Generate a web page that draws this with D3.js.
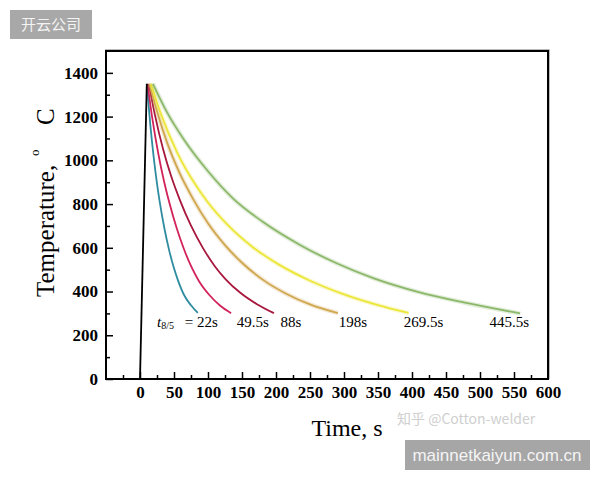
<!DOCTYPE html>
<html>
<head>
<meta charset="utf-8">
<script src="https://cdn.jsdelivr.net/npm/d3@7"></script>
<style>
  body { margin: 0; background: #fff; }
  #chart { width: 600px; height: 480px; }
  .tick text { font-family: "Liberation Serif", serif; font-weight: bold; font-size: 17px; fill: #000; }
</style>
</head>
<body>
<div id="chart"></div>
<script>
// heating branch
var heatTime = [0, 10];
var heatTemp = [0, 1350];

// cooling curves, one per t8/5
var coolLabels = ["22s", "49.5s", "88s", "198s", "269.5s", "445.5s"];
var coolColors = ["#2f8ca0", "#d2225a", "#a8173c", "#d0a64e", "#ece63a", "#8cb86a"];
var coolTime = [
  [10, 15, 20, 25, 29, 36, 43, 50, 56, 65, 75, 85],
  [11, 18, 27, 35, 43, 54, 65, 76, 87, 102, 118, 134],
  [13, 22, 34, 46, 59, 75, 92, 110, 126, 148, 172, 197],
  [14, 25, 40, 58, 78, 100, 125, 152, 182, 215, 250, 291],
  [16, 30, 55, 80, 100, 130, 165, 205, 247, 300, 350, 395],
  [19, 40, 65, 100, 137, 180, 236, 290, 344, 410, 476, 559]
];
var coolTemp = [
  [1350, 1168, 1018, 894, 810, 687, 587, 506, 450, 383, 337, 302],
  [1350, 1194, 1029, 909, 808, 689, 591, 510, 446, 384, 335, 301],
  [1350, 1207, 1051, 926, 816, 701, 602, 516, 456, 393, 342, 301],
  [1350, 1224, 1080, 944, 824, 712, 612, 526, 451, 390, 341, 301],
  [1350, 1218, 1033, 896, 807, 701, 605, 522, 454, 387, 338, 302],
  [1350, 1218, 1093, 950, 825, 720, 612, 528, 460, 397, 350, 300]
];
// where each label sits along the time axis
var labelX = [90, 166, 222, 313, 417, 543];

var xMajor = d3.range(0, 601, 50);
var xMinor = d3.range(-25, 600, 50);
var yMajor = d3.range(0, 1401, 200);
var yMinor = d3.range(100, 1400, 200);

var svg = d3.select("#chart").append("svg")
            .attr("width", 600)
            .attr("height", 480);

var x = d3.scaleLinear().domain([-50, 600]).range([106, 548]);
var y = d3.scaleLinear().domain([0, 1500]).range([379, 51]);

// minor ticks
svg.append("g")
   .attr("transform", "translate(0,379)")
   .call(d3.axisBottom(x).tickValues(xMinor).tickSize(-4).tickFormat(""))
   .call(function(g){ g.select(".domain").remove(); });
svg.append("g")
   .attr("transform", "translate(106,0)")
   .call(d3.axisLeft(y).tickValues(yMinor).tickSize(-4).tickFormat(""))
   .call(function(g){ g.select(".domain").remove(); });

// major ticks
svg.append("g")
   .attr("transform", "translate(0,379)")
   .call(d3.axisBottom(x).tickValues(xMajor).tickSize(-7).tickPadding(7).tickFormat(d3.format("d")))
   .call(function(g){ g.select(".domain").remove(); });
svg.append("g")
   .attr("transform", "translate(106,0)")
   .call(d3.axisLeft(y).tickValues(yMajor).tickSize(-7).tickPadding(8).tickFormat(d3.format("d")))
   .call(function(g){ g.select(".domain").remove(); });

svg.selectAll(".tick line").attr("stroke", "#000").attr("stroke-width", 1.5);

// frame, with the faint grey edge of the scan
svg.append("path")
   .attr("d", "M" + (x(-50) - 1) + "," + (y(1500) - 1.5) + "H" + (x(600) + 1.5) + "V" + y(0))
   .attr("fill", "none").attr("stroke", "#bbb").attr("stroke-width", 1);
svg.append("rect")
   .attr("x", x(-50)).attr("y", y(1500))
   .attr("width", x(600) - x(-50)).attr("height", y(0) - y(1500))
   .attr("fill", "none").attr("stroke", "#000").attr("stroke-width", 2);

var line = d3.line()
             .x(function(d){ return x(d[0]); })
             .y(function(d){ return y(d[1]); })
             .curve(d3.curveMonotoneX);

// cooling curves
coolTime.forEach(function(times, i){
  var pts = times.map(function(t, j){ return [t, coolTemp[i][j]]; });
  if (i >= 3) {
    // soft glow on the light curves
    svg.append("path").datum(pts).attr("d", line)
       .attr("fill", "none").attr("stroke", coolColors[i])
       .attr("stroke-opacity", 0.25).attr("stroke-width", 4.5);
  }
  svg.append("path").datum(pts).attr("d", line)
     .attr("fill", "none").attr("stroke", coolColors[i]).attr("stroke-width", 1.8);
});

// heating line
svg.append("path")
   .datum(heatTime.map(function(t, j){ return [t, heatTemp[j]]; }))
   .attr("d", d3.line().x(function(d){ return x(d[0]); }).y(function(d){ return y(d[1]); }))
   .attr("fill", "none").attr("stroke", "#000").attr("stroke-width", 1.8);

// curve labels
svg.selectAll(".clabel")
   .data(coolLabels)
   .enter()
   .append("text")
   .attr("class", "clabel")
   .attr("x", function(d, i){ return x(labelX[i]); })
   .attr("y", 327)
   .attr("text-anchor", "middle")
   .style("font-family", "Liberation Serif, serif")
   .style("font-size", "15px")
   .text(function(d, i){ return i == 0 ? "= " + d : d; });

var t85 = svg.append("text")
             .attr("x", 157).attr("y", 327)
             .style("font-family", "Liberation Serif, serif")
             .style("font-size", "15px");
t85.append("tspan").style("font-style", "italic").text("t");
t85.append("tspan").attr("dy", 2).style("font-size", "10px").text("8/5");

// axis titles
svg.append("text")
   .attr("x", 347).attr("y", 436)
   .attr("text-anchor", "middle")
   .style("font-family", "Liberation Serif, serif")
   .style("font-size", "24px")
   .text("Time, s");

var yt = svg.append("text")
            .attr("transform", "translate(54,297) rotate(-90)")
            .style("font-family", "Liberation Serif, serif")
            .style("font-size", "25px");
yt.append("tspan").attr("x", 0).attr("y", 0).text("Temperature,");
yt.append("tspan").attr("x", 141).attr("y", -15).style("font-size", "13px").text("o");
yt.append("tspan").attr("x", 172).attr("y", 0).text("C");

// watermarks
svg.append("rect").attr("x", 10).attr("y", 10).attr("width", 82).attr("height", 29).attr("fill", "#a8a8a8");
svg.append("text")
   .attr("x", 51).attr("y", 30)
   .attr("text-anchor", "middle")
   .style("font-family", "Noto Sans CJK SC, sans-serif")
   .style("font-size", "15px")
   .attr("fill", "#f4f4f4")
   .text("开云公司");

svg.append("text")
   .attr("x", 397).attr("y", 424)
   .style("font-family", "Noto Sans CJK SC, sans-serif")
   .style("font-size", "14px")
   .attr("fill", "#cfcfcf")
   .text("知乎 @Cotton-welder");

svg.append("rect").attr("x", 405).attr("y", 440).attr("width", 185).attr("height", 30).attr("fill", "#a6a6a6");
svg.append("text")
   .attr("x", 497).attr("y", 461)
   .attr("text-anchor", "middle")
   .style("font-family", "Liberation Sans, Arial, sans-serif")
   .style("font-size", "17px")
   .attr("fill", "#f4f4f4")
   .text("mainnetkaiyun.com.cn");
</script>
</body>
</html>
